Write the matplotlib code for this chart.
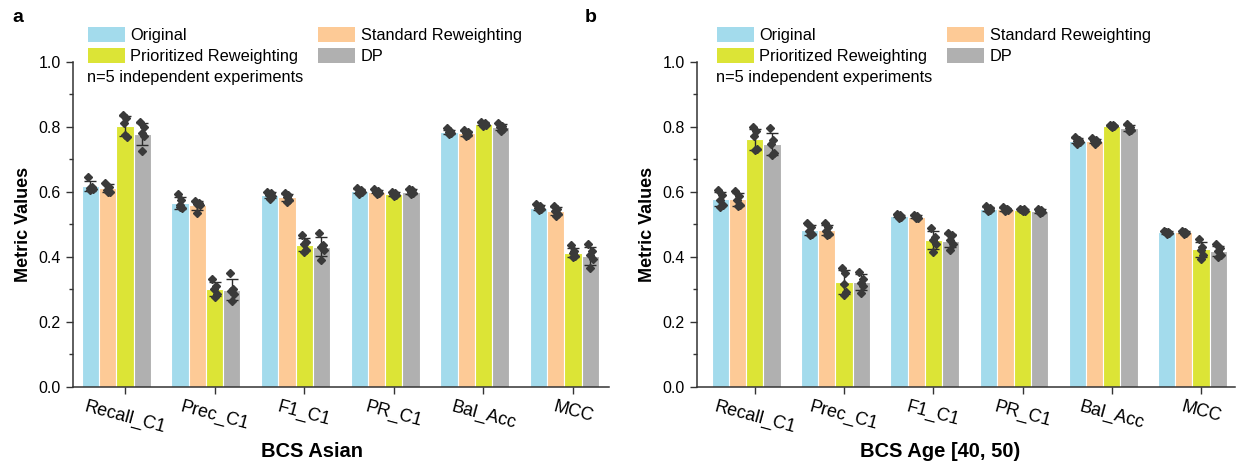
import matplotlib
matplotlib.use('Agg')
import matplotlib.pyplot as plt
from matplotlib.patches import Patch
import numpy as np

plt.rcParams['font.family'] = ['Liberation Sans', 'DejaVu Sans']

categories = ['Recall_C1', 'Prec_C1', 'F1_C1', 'PR_C1', 'Bal_Acc', 'MCC']
methods = ['Original', 'Standard Reweighting', 'Prioritized Reweighting', 'DP']
colors = ['#A3DBEC', '#FDCA96', '#DCE436', '#B0B0B0']

# ---- Panel a: BCS Asian ----
asian_original = [0.617, 0.566, 0.589, 0.602, 0.784, 0.551]
asian_standard = [0.610, 0.558, 0.582, 0.600, 0.779, 0.540]
asian_prioritized = [0.802, 0.300, 0.436, 0.593, 0.809, 0.412]
asian_dp = [0.777, 0.298, 0.430, 0.600, 0.798, 0.403]

asian_original_pts = [[0.646, 0.615, 0.612, 0.608, 0.605], [0.594, 0.575, 0.560, 0.550, 0.552],
                      [0.600, 0.595, 0.590, 0.585, 0.578], [0.612, 0.605, 0.600, 0.598, 0.593],
                      [0.795, 0.788, 0.784, 0.780, 0.778], [0.562, 0.555, 0.550, 0.546, 0.542]]
asian_standard_pts = [[0.628, 0.615, 0.605, 0.600, 0.598], [0.572, 0.565, 0.562, 0.560, 0.535],
                      [0.596, 0.590, 0.583, 0.575, 0.568], [0.607, 0.603, 0.600, 0.597, 0.593],
                      [0.790, 0.782, 0.779, 0.775, 0.771], [0.555, 0.547, 0.540, 0.532, 0.526]]
asian_prioritized_pts = [[0.836, 0.826, 0.812, 0.769, 0.774], [0.330, 0.310, 0.300, 0.285, 0.275],
                         [0.465, 0.445, 0.440, 0.420, 0.415], [0.600, 0.596, 0.593, 0.590, 0.586],
                         [0.815, 0.812, 0.809, 0.806, 0.803], [0.435, 0.418, 0.410, 0.402, 0.398]]
asian_dp_pts = [[0.813, 0.800, 0.780, 0.770, 0.725], [0.350, 0.300, 0.295, 0.285, 0.262],
                [0.472, 0.435, 0.430, 0.420, 0.390], [0.609, 0.604, 0.600, 0.595, 0.592],
                [0.810, 0.803, 0.798, 0.792, 0.787], [0.438, 0.418, 0.405, 0.392, 0.364]]

# ---- Panel b: BCS Age [40, 50) ----
age_original = [0.576, 0.482, 0.525, 0.546, 0.756, 0.475]
age_standard = [0.576, 0.482, 0.523, 0.545, 0.756, 0.475]
age_prioritized = [0.761, 0.321, 0.451, 0.543, 0.803, 0.422]
age_dp = [0.746, 0.321, 0.449, 0.540, 0.796, 0.418]

age_original_pts = [[0.605, 0.590, 0.575, 0.560, 0.553], [0.504, 0.490, 0.480, 0.470, 0.468],
                    [0.530, 0.527, 0.525, 0.522, 0.520], [0.555, 0.550, 0.546, 0.543, 0.540],
                    [0.768, 0.760, 0.756, 0.752, 0.748], [0.480, 0.477, 0.475, 0.472, 0.470]]
age_standard_pts = [[0.602, 0.585, 0.575, 0.560, 0.555], [0.503, 0.490, 0.480, 0.470, 0.465],
                    [0.528, 0.525, 0.523, 0.520, 0.518], [0.552, 0.548, 0.545, 0.542, 0.540],
                    [0.766, 0.760, 0.755, 0.752, 0.748], [0.480, 0.477, 0.475, 0.473, 0.471]]
age_prioritized_pts = [[0.800, 0.785, 0.770, 0.730, 0.728], [0.366, 0.350, 0.315, 0.290, 0.282],
                       [0.487, 0.460, 0.450, 0.440, 0.415], [0.547, 0.545, 0.543, 0.541, 0.540],
                       [0.806, 0.804, 0.803, 0.801, 0.800], [0.453, 0.430, 0.420, 0.405, 0.392]]
age_dp_pts = [[0.795, 0.760, 0.745, 0.720, 0.713], [0.354, 0.330, 0.320, 0.310, 0.287],
              [0.472, 0.465, 0.450, 0.440, 0.420], [0.548, 0.544, 0.540, 0.536, 0.534],
              [0.808, 0.800, 0.796, 0.790, 0.787], [0.438, 0.428, 0.418, 0.405, 0.400]]

panels = [
    dict(letter='a', xlabel='BCS Asian',
         means=[asian_original, asian_standard, asian_prioritized, asian_dp],
         pts=[asian_original_pts, asian_standard_pts, asian_prioritized_pts, asian_dp_pts],
         rect=[0.0588, 0.165, 0.4339, 0.7019], xlim=(-0.583, 5.40), legx=0.028, xlabx=0.446),
    dict(letter='b', xlabel='BCS Age [40, 50)',
         means=[age_original, age_standard, age_prioritized, age_dp],
         pts=[age_original_pts, age_standard_pts, age_prioritized_pts, age_dp_pts],
         rect=[0.5637, 0.165, 0.4355, 0.7019], xlim=(-0.65, 5.38), legx=0.037, xlabx=0.452),
]

fig = plt.figure(figsize=(12.36, 4.63), dpi=100)
pitch = 0.1925
offsets = np.array([-2, -1, 0, 1]) * pitch
jitter = np.array([-0.025, 0.015, -0.005, 0.025, 0.0])
x = np.arange(len(categories))
dark = '#333333'

for p in panels:
    ax = fig.add_axes(p['rect'])
    for i in range(4):
        ax.bar(x + offsets[i], p['means'][i], width=pitch, color=colors[i],
               edgecolor='white', linewidth=0.8, zorder=2)
        sd = [np.std(v, ddof=1) for v in p['pts'][i]]
        ax.errorbar(x + offsets[i], p['means'][i], yerr=sd, fmt='none',
                    ecolor='#2b2b2b', elinewidth=1.0, capsize=4.2, capthick=1.0, zorder=3)
        for j in range(len(categories)):
            ax.plot(x[j] + offsets[i] + jitter, p['pts'][i][j], linestyle='none',
                    marker='D', markersize=3.8, color='#3a3a3a', zorder=4)
    ax.set_xlim(*p['xlim'])
    ax.set_ylim(0, 1.0)
    ax.set_yticks(np.arange(0, 1.01, 0.2))
    ax.set_yticks(np.arange(0.1, 1.0, 0.2), minor=True)
    ax.set_yticklabels([f'{v:.1f}' for v in np.arange(0, 1.01, 0.2)], fontsize=11.5)
    ax.set_xticks(x)
    ax.set_xticklabels(categories, rotation=-15, fontsize=13, ha='center')
    ax.tick_params(axis='both', which='major', direction='out', length=5, width=1.0, color=dark)
    ax.tick_params(axis='y', which='minor', direction='out', length=3, width=1.0, color=dark)
    for s in ['top', 'right']:
        ax.spines[s].set_visible(False)
    for s in ['left', 'bottom']:
        ax.spines[s].set_linewidth(1.1)
        ax.spines[s].set_color(dark)
    ax.set_ylabel('Metric Values', fontsize=13, fontweight='bold', labelpad=5)
    ax.set_xlabel(p['xlabel'], fontsize=14.5, fontweight='bold')
    ax.xaxis.set_label_coords(p['xlabx'], -0.201)
    ax.xaxis.label.set_verticalalignment('center')

    handles = [Patch(facecolor=colors[k], edgecolor='none') for k in [0, 2, 1, 3]]
    labels = [methods[k] for k in [0, 2, 1, 3]]
    ax.legend(handles, labels, ncol=2, loc='upper left', bbox_to_anchor=(p['legx'], 1.106),
              frameon=False, fontsize=11.8, handlelength=2.25, handleheight=1.0,
              handletextpad=0.35, labelspacing=0.3, columnspacing=1.2,
              borderpad=0, borderaxespad=0)
    ax.text(p['legx'] - 0.001, 0.951, 'n=5 independent experiments', transform=ax.transAxes,
            fontsize=11.8, va='center', ha='left')

fig.text(12 / 1236, 1 - 18 / 463, 'a', fontsize=14, fontweight='bold', va='center', ha='left')
fig.text(585 / 1236, 1 - 18 / 463, 'b', fontsize=14, fontweight='bold', va='center', ha='left')

fig.savefig('out.png', dpi=100)
